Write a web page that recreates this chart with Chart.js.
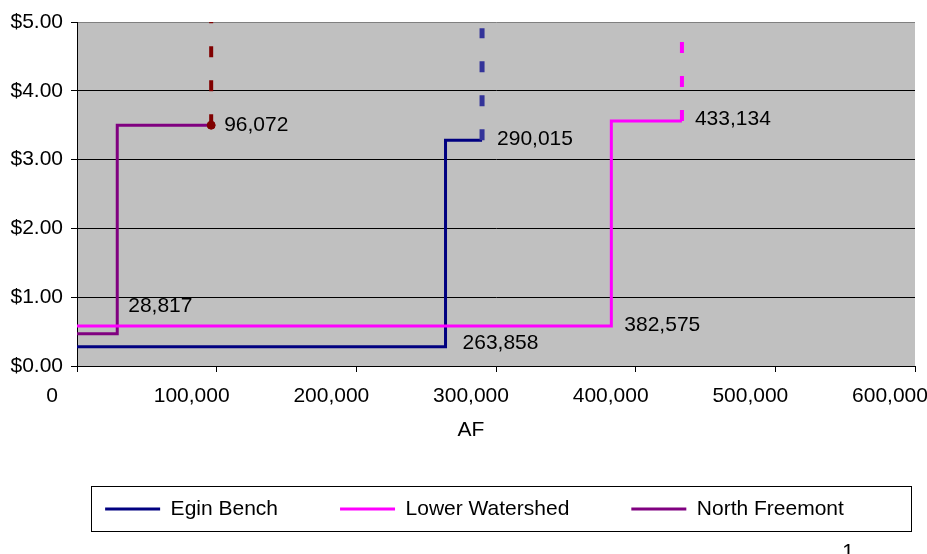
<!DOCTYPE html>
<html>
<head>
<meta charset="utf-8">
<script src="https://cdn.jsdelivr.net/npm/chart.js@4.4.1/dist/chart.umd.min.js"></script>
<style>
  html, body { margin: 0; padding: 0; background: #fff; }
  #wrap { position: relative; width: 927px; height: 554px; }
</style>
</head>
<body>
<div id="wrap"><canvas id="c" width="927" height="554"></canvas></div>
<script>
// Supply blocks: cumulative acre-feet at each break and the price per AF
const seriesNames = ['Egin Bench', 'Lower Watershed', 'North Freemont'];

const eginAF = [0, 263858, 290015];
const eginPrice = [0.28, 3.28, 3.28];

const lowerAF = [0, 382575, 433134];
const lowerPrice = [0.58, 3.56, 3.56];

const northAF = [0, 28817, 96072];
const northPrice = [0.47, 3.50, 3.50];

// Upper end of the dashed extension rising from each curve's last block
const eginExtTop = 4.91;
const lowerExtTop = 4.74;
const northExtTop = 5.07;

const xTickValues = [0, 100000, 200000, 300000, 400000, 500000, 600000];
const yTickValues = [0, 1, 2, 3, 4, 5];

const pts = (xs, ys) => xs.map((x, i) => ({ x: x, y: ys[i] }));
const last = a => a[a.length - 1];

Chart.defaults.font.family = "'Liberation Sans', Arial, sans-serif";
Chart.defaults.font.size = 21;
Chart.defaults.color = '#000';

const fmtAF = v => Number(v).toLocaleString('en-US');

// Value labels: which series/point they belong to and where they sit next to it
const valueLabels = [
  { ds: 0, i: 1, from: 'start', dx: 17, dy: -4 },
  { ds: 0, i: 2, dx: 15, dy: -1 },
  { ds: 1, i: 1, from: 'start', dx: 13, dy: -1 },
  { ds: 1, i: 2, dx: 13, dy: -2 },
  { ds: 2, i: 1, from: 'start', dx: 11, dy: -27 },
  { ds: 2, i: 2, dx: 13, dy: 0 }
];
const seriesAF = [eginAF, lowerAF, northAF];
const seriesPrice = [eginPrice, lowerPrice, northPrice];

const plotBackground = {
  id: 'plotBackground',
  beforeDraw(chart) {
    const { ctx, chartArea: a } = chart;
    ctx.save();
    ctx.fillStyle = '#C0C0C0';
    ctx.fillRect(a.left, a.top, a.right - a.left, a.bottom - a.top);
    ctx.restore();
  }
};

// Let the legend row start a little in from the left edge
const legendInset = {
  id: 'legendInset',
  afterLayout(chart) {
    const lg = chart.legend;
    if (lg) {
      const right = lg.right;
      lg.left = 34;
      lg.right = right;
      lg.width = right - 34;
    }
  }
};

const afLabels = {
  id: 'afLabels',
  afterDatasetsDraw(chart) {
    const { ctx, scales: { x, y } } = chart;
    ctx.save();
    ctx.font = "21px 'Liberation Sans', Arial, sans-serif";
    ctx.fillStyle = '#000';
    ctx.textAlign = 'left';
    ctx.textBaseline = 'middle';
    valueLabels.forEach(l => {
      const af = seriesAF[l.ds][l.i];
      // a step's lower corner sits at the previous block's price
      const price = l.from === 'start' ? seriesPrice[l.ds][l.i - 1] : seriesPrice[l.ds][l.i];
      ctx.fillText(fmtAF(af), x.getPixelForValue(af) + l.dx, y.getPixelForValue(price) + l.dy);
    });
    ctx.restore();
  }
};

const extras = {
  id: 'extras',
  afterDraw(chart) {
    const { ctx, chartArea: a } = chart;
    ctx.save();
    ctx.font = "21px 'Liberation Sans', Arial, sans-serif";
    ctx.fillStyle = '#000';
    // axis title
    ctx.textAlign = 'center';
    ctx.textBaseline = 'middle';
    ctx.fillText('AF', (a.left + a.right) / 2 - 25, 430);
    // frame around the legend
    const hb = chart.legend.legendHitBoxes;
    if (hb && hb.length) {
      const left = Math.min(...hb.map(h => h.left)) - 14;
      const right = Math.max(...hb.map(h => h.left + h.width)) + 67;
      const top = hb[0].top - 12.5;
      const bottom = hb[0].top + 32.5;
      ctx.strokeStyle = '#000';
      ctx.lineWidth = 1;
      ctx.strokeRect(Math.round(left) + 0.5, Math.round(top) + 0.5, Math.round(right - left), Math.round(bottom - top));
    }
    // page number
    ctx.textAlign = 'center';
    ctx.textBaseline = 'alphabetic';
    ctx.fillText('1', 848, 557.5);
    ctx.restore();
  }
};

const stepLine = (label, xs, ys, color, order) => ({
  label: label,
  data: pts(xs, ys),
  borderColor: color,
  backgroundColor: color,
  borderWidth: 3,
  stepped: true,
  pointRadius: 0,
  borderCapStyle: 'butt',
  borderJoinStyle: 'miter',
  order: order
});

const extLine = (label, xs, ys, top, color, width, dot) => ({
  label: label,
  data: [{ x: last(xs), y: last(ys) }, { x: last(xs), y: top }],
  borderColor: color,
  backgroundColor: color,
  borderWidth: width,
  borderDash: [11, 23],
  borderCapStyle: 'butt',
  pointRadius: dot ? [4, 0] : 0,
  pointBackgroundColor: color,
  pointBorderColor: color,
  pointBorderWidth: 1,
  order: -1
});

new Chart(document.getElementById('c'), {
  type: 'line',
  data: {
    datasets: [
      stepLine(seriesNames[0], eginAF, eginPrice, '#000080', 1),
      stepLine(seriesNames[1], lowerAF, lowerPrice, '#FF00FF', 0),
      stepLine(seriesNames[2], northAF, northPrice, '#800080', 2),
      extLine('Egin Bench extension', eginAF, eginPrice, eginExtTop, '#333399', 5, false),
      extLine('Lower Watershed extension', lowerAF, lowerPrice, lowerExtTop, '#FF00FF', 4, false),
      extLine('North Freemont extension', northAF, northPrice, northExtTop, '#800000', 4, true)
    ]
  },
  options: {
    responsive: false,
    animation: false,
    events: [],
    layout: { padding: { left: 0, right: 12, top: 22, bottom: 24.5 } },
    plugins: {
      tooltip: { enabled: false },
      legend: {
        position: 'bottom',
        labels: {
          boxWidth: 55,
          boxHeight: 3,
          padding: 62,
          color: '#000',
          font: { size: 21 },
          filter: item => item.datasetIndex < 3,
          sort: (a, b) => a.datasetIndex - b.datasetIndex,
          generateLabels(chart) {
            const items = Chart.defaults.plugins.legend.labels.generateLabels(chart);
            items.forEach(it => { it.fillStyle = it.strokeStyle; it.lineWidth = 0; });
            return items;
          }
        }
      }
    },
    scales: {
      x: {
        type: 'linear',
        min: 0,
        max: 600000,
        afterBuildTicks(s) { s.ticks = xTickValues.map(v => ({ value: v })); },
        ticks: {
          callback: v => fmtAF(v),
          labelOffset: -25,
          padding: 12,
          maxRotation: 0,
          autoSkip: false,
          color: '#000'
        },
        grid: { drawOnChartArea: false, tickLength: 6, color: '#000', tickColor: '#000' },
        border: { color: '#000', width: 1 },
        afterFit(s) { s.paddingLeft = 0; s.paddingRight = 0; s.height = 70.5; }
      },
      y: {
        min: 0,
        max: 5,
        afterBuildTicks(s) { s.ticks = yTickValues.map(v => ({ value: v })); },
        ticks: {
          callback: v => '$' + Number(v).toFixed(2),
          padding: 8,
          color: '#000'
        },
        grid: {
          color: c => (c.tick && c.tick.value === 5 ? '#808080' : '#000'),
          tickColor: '#000',
          tickLength: 6
        },
        border: { color: '#000', width: 1 },
        afterFit(s) { s.width = 77; s.paddingTop = 0; s.paddingBottom = 0; }
      }
    }
  },
  plugins: [plotBackground, legendInset, afLabels, extras]
});
</script>
</body>
</html>
